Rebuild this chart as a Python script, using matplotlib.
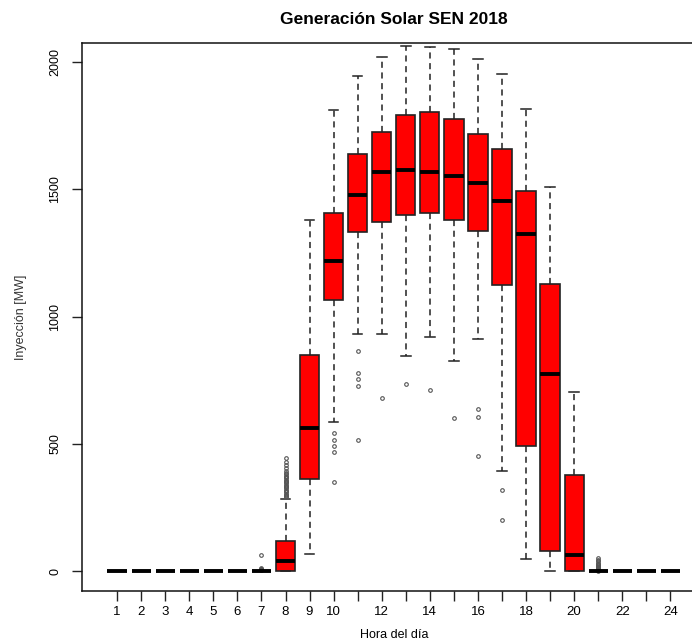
import matplotlib
matplotlib.use("Agg")
import matplotlib.pyplot as plt

plt.rcParams['font.family'] = ['Liberation Sans', 'DejaVu Sans']

hours = list(range(1, 25))
q1 = [0, 0, 0, 0, 0, 0, 0, 0, 361, 1066, 1331, 1373, 1398, 1408, 1380, 1337, 1125, 491, 78, 0, 0, 0, 0, 0]
med = [0, 0, 0, 0, 0, 0, 0, 39, 562, 1219, 1479, 1569, 1578, 1569, 1551, 1526, 1453, 1324, 775, 63, 0, 0, 0, 0]
q3 = [0, 0, 0, 0, 0, 0, 0, 118, 850, 1408, 1637, 1726, 1793, 1805, 1777, 1718, 1657, 1494, 1128, 377, 0, 0, 0, 0]
whislo = [0, 0, 0, 0, 0, 0, 0, 0, 67, 587, 931, 931, 846, 921, 825, 911, 394, 47, 1, 0, 0, 0, 0, 0]
whishi = [0, 0, 0, 0, 0, 0, 0, 283, 1381, 1811, 1946, 2021, 2064, 2060, 2052, 2013, 1954, 1817, 1511, 703, 0, 0, 0, 0]
outliers = {
    7: [3, 5, 7, 9, 12, 63],
    8: [290, 295, 300, 305, 310, 315, 320, 325, 330, 335, 340, 345, 350, 355,
        360, 365, 370, 375, 380, 385, 395, 405, 417, 428, 444],
    10: [352, 468, 491, 515, 541],
    11: [515, 728, 754, 779, 864],
    12: [680],
    13: [736],
    14: [711],
    15: [601],
    16: [452, 605, 637],
    17: [200, 318],
    21: [2, 4, 6, 8, 10, 13, 16, 20, 24, 28, 33, 38, 44, 50],
}
xtick_labels = ['1', '2', '3', '4', '5', '6', '7', '8', '9', '10', '', '12', '', '14',
                '', '16', '', '18', '', '20', '', '22', '', '24']
yticks = [0, 500, 1000, 1500, 2000]

W, H = 692, 644
fig = plt.figure(figsize=(W / 100, H / 100), dpi=100)
left, right, top, bottom = 82, 705.5, 43, 591
ax = fig.add_axes([left / W, (H - bottom) / H, (right - left) / W, (bottom - top) / H])

stats = []
for i, h in enumerate(hours):
    stats.append(dict(med=med[i], q1=q1[i], q3=q3[i], whislo=whislo[i], whishi=whishi[i],
                      fliers=outliers.get(h, [])))

ax.bxp(stats, positions=hours, widths=0.8, patch_artist=True, showcaps=True,
       capwidths=0.4,
       boxprops=dict(facecolor='#ff0000', edgecolor='#222222', linewidth=1.2),
       medianprops=dict(color='black', linewidth=2.8, solid_capstyle='butt'),
       whiskerprops=dict(color='#222222', linewidth=1.1, linestyle=(0, (4, 3))),
       capprops=dict(color='#222222', linewidth=1.1),
       flierprops=dict(marker='o', markerfacecolor='none', markeredgecolor='#555555',
                       markersize=2.6, markeredgewidth=0.8))

ax.set_xlim(-0.46, 25.46)
ax.set_ylim(-78, 2075)
ax.set_xticks(hours)
ax.set_xticklabels(xtick_labels, fontsize=9.5)
ax.set_yticks(yticks)
ax.set_yticklabels([str(v) for v in yticks], fontsize=9, rotation=90, va='center')
ax.tick_params(axis='both', direction='out', length=7, width=1, color='#222222')
ax.tick_params(axis='y', pad=8)
ax.tick_params(axis='x', pad=4)
for s in ax.spines.values():
    s.set_linewidth(1.1)
    s.set_color('#111111')

ax.set_title('Generación Solar SEN 2018', fontsize=12.5, fontweight='bold', pad=14)
ax.set_xlabel('Hora del día', fontsize=9, labelpad=8)
ax.set_ylabel('Inyección [MW]', fontsize=9, labelpad=16, color='#333333')

fig.savefig('out.png', dpi=100)
